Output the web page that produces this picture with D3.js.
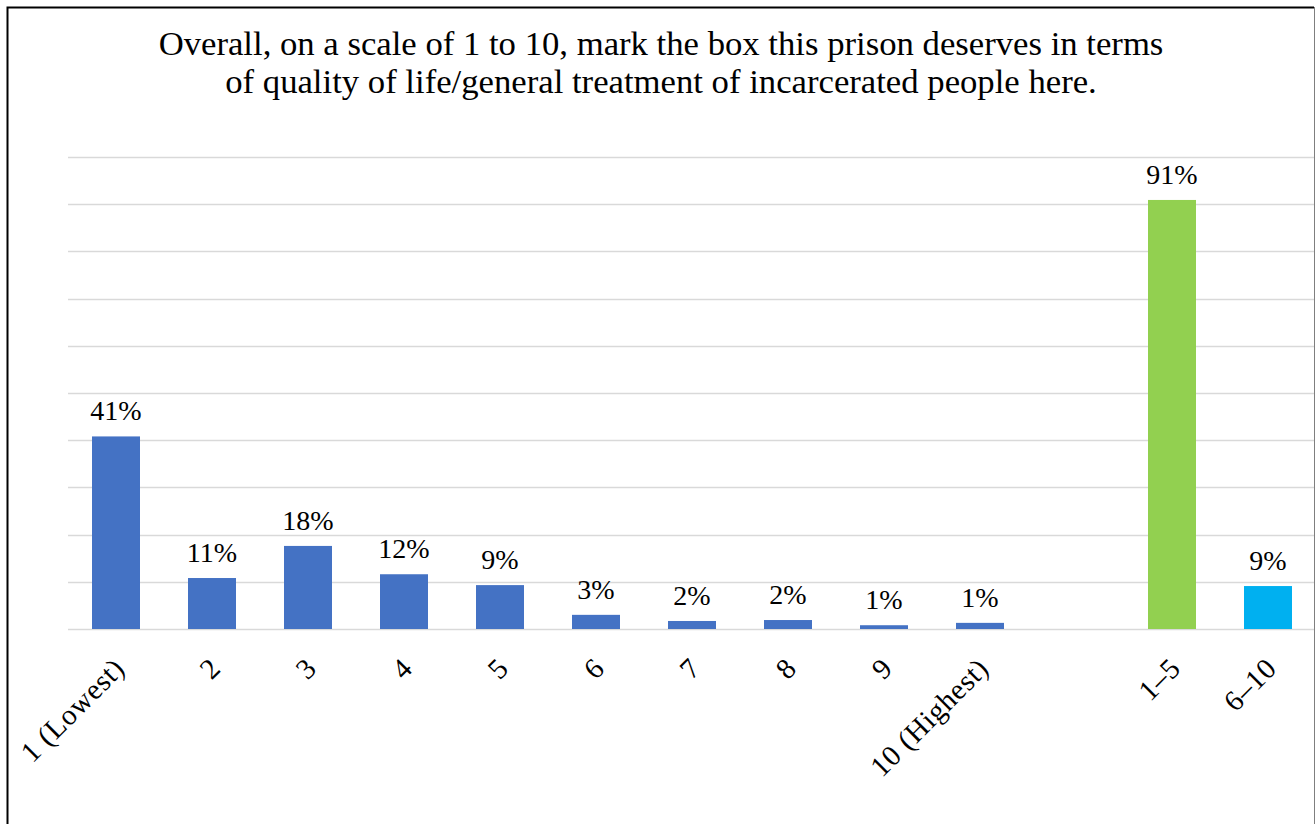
<!DOCTYPE html>
<html><head><meta charset="utf-8">
<script src="https://cdn.jsdelivr.net/npm/d3@7"></script>
<style>
body{margin:0;background:#fff;}
svg{display:block;font-family:"Liberation Serif","DejaVu Serif",serif;}
</style>
</head><body>
<svg id="chart" width="1315" height="824"></svg>
<script>
// ---- data ----
const titleLines = [
  "Overall, on a scale of 1 to 10, mark the box this prison deserves in terms",
  "of quality of life/general treatment of incarcerated people here."
];
const categories = ["1 (Lowest)","2","3","4","5","6","7","8","9","10 (Highest)","","1–5","6–10"];
const values = [40.8, 10.8, 17.6, 11.6, 9.3, 3.0, 1.7, 1.9, 0.8, 1.3, null, 90.9, 9.1];
const barColors = ["#4472C4","#4472C4","#4472C4","#4472C4","#4472C4","#4472C4","#4472C4","#4472C4","#4472C4","#4472C4","#4472C4","#92D050","#00B0F0"];
const yTicks = [0,10,20,30,40,50,60,70,80,90,100];

// ---- layout ----
const svg = d3.select("#chart");
const W = 1315, H = 824;
const plot = {left: 68, right: 1316, top: 157, bottom: 629};

const x = d3.scaleBand().domain(d3.range(categories.length))
  .range([plot.left, plot.right]).paddingInner(0.5).paddingOuter(0.25);
const y = d3.scaleLinear().domain([0, 100]).range([plot.bottom, plot.top]);

svg.append("rect").attr("width", W).attr("height", H).attr("fill", "#fff");

// gridlines
svg.append("g").selectAll("line").data(yTicks).join("line")
  .attr("x1", plot.left).attr("x2", 1314)
  .attr("y1", d => Math.round(y(d)) + 0.5).attr("y2", d => Math.round(y(d)) + 0.5)
  .attr("stroke", "#d9d9d9").attr("stroke-width", 1.5);

// bars
const data = categories.map((c, i) => ({i, c, v: values[i], color: barColors[i]}));
const barData = data.filter(d => d.v != null);
svg.append("g").selectAll("rect").data(barData).join("rect")
  .attr("x", d => x(d.i)).attr("width", x.bandwidth())
  .attr("y", d => y(d.v)).attr("height", d => y(0) - y(d.v))
  .attr("fill", d => d.color);

// data labels
const fmt = v => Math.round(v) + "%";
svg.append("g").selectAll("text").data(barData).join("text")
  .attr("x", d => x(d.i) + x.bandwidth() / 2)
  .attr("y", d => y(d.v) - 16)
  .attr("text-anchor", "middle")
  .attr("font-size", 28).attr("fill", "#000")
  .text(d => fmt(d.v));

// x axis labels (rotated)
svg.append("g").selectAll("text").data(data.filter(d => d.c !== "")).join("text")
  .attr("transform", d => `translate(${x(d.i) + x.bandwidth() / 2 + 3},${663}) rotate(-45)`)
  .attr("text-anchor", "end").attr("dy", "0.35em")
  .attr("font-size", 29).attr("letter-spacing", 0.6).attr("fill", "#000")
  .text(d => d.c);

// title (two lines)
const tl = svg.append("g").selectAll("text").data(titleLines).join("text")
  .attr("x", 661).attr("text-anchor", "middle").attr("fill", "#000")
  .attr("font-size", 30).text(d => d);
// fit first line width to the reference width, space lines so boxes don't collide
const w0 = tl.node().getComputedTextLength();
const fs = 30 * 1005 / w0;
const lineGap = fs * 1.12;
tl.attr("font-size", fs).attr("y", (d, i) => 74 + (i - 0.5) * lineGap);

// frame
svg.append("path").attr("d", `M7.5,${H + 5} V7.5 H1314`)
  .attr("fill", "none").attr("stroke", "#000").attr("stroke-width", 2);
svg.append("line").attr("x1", 1314.5).attr("x2", 1314.5).attr("y1", 7).attr("y2", H)
  .attr("stroke", "#7f7f7f").attr("stroke-width", 1);
</script>
</body></html>
